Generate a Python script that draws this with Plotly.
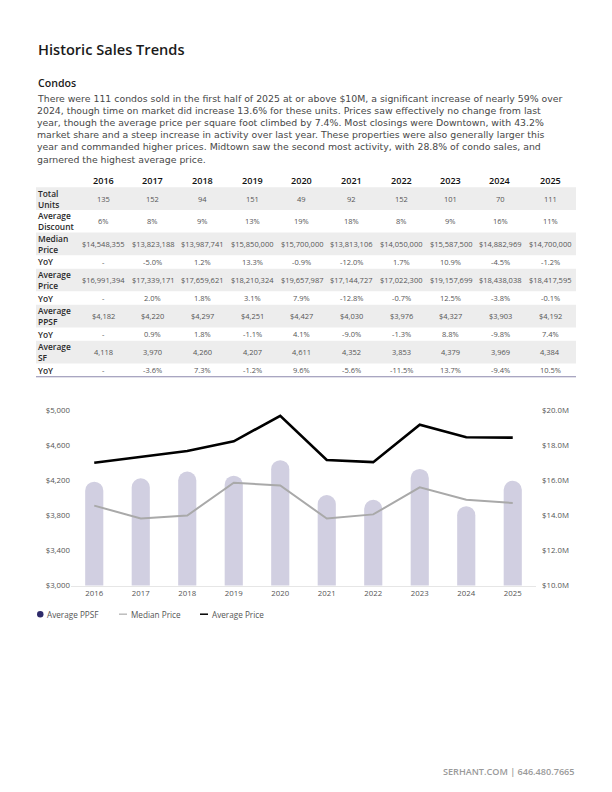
import plotly.graph_objects as go

# ---------------- data ----------------
years = ["2016", "2017", "2018", "2019", "2020", "2021", "2022", "2023", "2024", "2025"]
total_units = [135, 152, 94, 151, 49, 92, 152, 101, 70, 111]
avg_discount = [6, 8, 9, 13, 19, 18, 8, 9, 16, 11]
median_price = [14548355, 13823188, 13987741, 15850000, 15700000, 13813106, 14050000, 15587500, 14882969, 14700000]
median_yoy = [None, -5.0, 1.2, 13.3, -0.9, -12.0, 1.7, 10.9, -4.5, -1.2]
avg_price = [16991394, 17339171, 17659621, 18210324, 19657987, 17144727, 17022300, 19157699, 18438038, 18417595]
avg_price_yoy = [None, 2.0, 1.8, 3.1, 7.9, -12.8, -0.7, 12.5, -3.8, -0.1]
avg_ppsf = [4182, 4220, 4297, 4251, 4427, 4030, 3976, 4327, 3903, 4192]
ppsf_yoy = [None, 0.9, 1.8, -1.1, 4.1, -9.0, -1.3, 8.8, -9.8, 7.4]
avg_sf = [4118, 3970, 4260, 4207, 4611, 4352, 3853, 4379, 3969, 4384]
sf_yoy = [None, -3.6, 7.3, -1.2, 9.6, -5.6, -11.5, 13.7, -9.4, 10.5]

left_ticks = [3000, 3400, 3800, 4200, 4600, 5000]
right_ticks = [10e6, 12e6, 14e6, 16e6, 18e6, 20e6]

title_text = "Historic Sales Trends"
subtitle_text = "Condos"
paragraph_lines = [
    "There were 111 condos sold in the first half of 2025 at or above $10M, a significant increase of nearly 59% over",
    "2024, though time on market did increase 13.6% for these units. Prices saw effectively no change from last",
    "year, though the average price per square foot climbed by 7.4%. Most closings were Downtown, with 43.2%",
    "market share and a steep increase in activity over last year. These properties were also generally larger this",
    "year and commanded higher prices. Midtown saw the second most activity, with 28.8% of condo sales, and",
    "garnered the highest average price.",
]
footer_text = "SERHANT.COM | 646.480.7665"

# ---------------- styling ----------------
W, H = 612, 792
FONT = "Open Sans"
PARA_FONT = "DejaVu Sans"
BAR_COLOR = "#d1cfe1"
STRIPE = "#ededed"


def px(x):
    return x / W


def py(y):
    return 1 - y / H


def money(v):
    return "${:,.0f}".format(v)


def pct(v):
    return "-" if v is None else "{:.1f}%".format(v)


table_rows = [
    ("Total<br>Units", [str(v) for v in total_units], 23),
    ("Average<br>Discount", ["{}%".format(v) for v in avg_discount], 23),
    ("Median<br>Price", [money(v) for v in median_price], 23),
    ("YoY", [pct(v) for v in median_yoy], 13.5),
    ("Average<br>Price", [money(v) for v in avg_price], 23),
    ("YoY", [pct(v) for v in avg_price_yoy], 13.5),
    ("Average<br>PPSF", [money(v) for v in avg_ppsf], 23),
    ("YoY", [pct(v) for v in ppsf_yoy], 13.5),
    ("Average<br>SF", ["{:,}".format(v) for v in avg_sf], 23),
    ("YoY", [pct(v) for v in sf_yoy], 13.5),
]

fig = go.Figure()

fig.add_trace(go.Bar(
    x=years, y=avg_ppsf, name="Average PPSF",
    marker=dict(color=BAR_COLOR, cornerradius="50%", line=dict(width=0)),
    yaxis="y", showlegend=False, hoverinfo="skip",
))
fig.add_trace(go.Scatter(
    x=years, y=median_price, name="Median Price", mode="lines",
    line=dict(color="#a9a9a9", width=2), yaxis="y2", showlegend=False,
))
fig.add_trace(go.Scatter(
    x=years, y=avg_price, name="Average Price", mode="lines",
    line=dict(color="#000000", width=2.6), yaxis="y2", showlegend=False,
))

annotations = []
shapes = []

# title and text
annotations.append(dict(text=title_text, x=px(35.5), y=py(45), xanchor="left", yanchor="middle",
                        font=dict(family=FONT, size=14.6, color="#1a1a1a", weight=600)))
annotations.append(dict(text=subtitle_text, x=px(35.5), y=py(79), xanchor="left", yanchor="middle",
                        font=dict(family=FONT, size=10.6, color="#1a1a1a", weight=600)))
for i, line in enumerate(paragraph_lines):
    annotations.append(dict(text=line, x=px(35.5), y=py(94.3 + 12.35 * i), xanchor="left", yanchor="middle",
                            borderpad=0, font=dict(family=PARA_FONT, size=9.35, color="#474747")))

# table
col_x = [103 + 49.67 * i for i in range(len(years))]
for xc, yr in zip(col_x, years):
    annotations.append(dict(text=yr, x=px(xc), y=py(178), xanchor="center", yanchor="middle",
                            font=dict(family=FONT, size=9.1, color="#111111", weight=600)))
y0 = 184.5
for r, (label, vals, h) in enumerate(table_rows):
    if r % 2 == 0:
        shapes.append(dict(type="rect", xref="paper", yref="paper", x0=px(36), x1=px(576),
                           y0=py(y0 + h), y1=py(y0), fillcolor=STRIPE, line=dict(width=0), layer="below"))
    yc = y0 + h / 2
    annotations.append(dict(text=label, x=px(36.5), y=py(yc), xanchor="left", yanchor="middle", align="left",
                            borderpad=0, font=dict(family=FONT, size=8.4, color="#2a2a2a", weight=600)))
    for xc, v in zip(col_x, vals):
        annotations.append(dict(text=v, x=px(xc), y=py(yc), xanchor="center", yanchor="middle", borderpad=0,
                                font=dict(family=FONT, size=7.5, color="#555555")))
    y0 += h
shapes.append(dict(type="line", xref="paper", yref="paper", x0=px(36), x1=px(576), y0=py(y0), y1=py(y0),
                   line=dict(color="#8c89ad", width=1.2)))

# legend (custom)
shapes.append(dict(type="circle", xref="paper", yref="paper", x0=px(37), x1=px(43.5), y0=py(620.3), y1=py(613.8),
                   fillcolor="#2e2b6a", line=dict(width=0)))
annotations.append(dict(text="Average PPSF", x=px(45), y=py(617), xanchor="left", yanchor="middle",
                        font=dict(family=FONT, size=8.2, color="#555555")))
shapes.append(dict(type="line", xref="paper", yref="paper", x0=px(119), x1=px(127), y0=py(617), y1=py(617),
                   line=dict(color="#bdbdbd", width=1.5)))
annotations.append(dict(text="Median Price", x=px(128.5), y=py(617), xanchor="left", yanchor="middle",
                        font=dict(family=FONT, size=8.2, color="#555555")))
shapes.append(dict(type="line", xref="paper", yref="paper", x0=px(200), x1=px(208), y0=py(617), y1=py(617),
                   line=dict(color="#000000", width=1.5)))
annotations.append(dict(text="Average Price", x=px(209.5), y=py(617), xanchor="left", yanchor="middle",
                        font=dict(family=FONT, size=8.2, color="#555555")))

# footer
annotations.append(dict(text=footer_text, x=px(576.5), y=py(776), xanchor="right", yanchor="middle",
                        font=dict(family=FONT, size=9.1, color="#9a9a9a", weight=600)))

for a in annotations:
    a.setdefault("xref", "paper")
    a.setdefault("yref", "paper")
    a["showarrow"] = False

fig.update_layout(
    width=W, height=H,
    margin=dict(l=0, r=0, t=0, b=0),
    paper_bgcolor="white", plot_bgcolor="white",
    font=dict(family=FONT, color="#555555"),
    bargap=0.61,
    showlegend=False,
    xaxis=dict(domain=[px(71), px(536)], type="category", showgrid=False, showline=True,
               linecolor="#e6e6e6", linewidth=1, ticks="", tickfont=dict(size=7.8, color="#555555"),
               anchor="y", zeroline=False),
    yaxis=dict(domain=[py(588), py(410)], range=[3000, 5000], tickvals=left_ticks, tickformat="$,.0f",
               showgrid=False, zeroline=False, showline=False, ticks="",
               tickfont=dict(size=7.8, color="#555555")),
    yaxis2=dict(domain=[py(588), py(410)], range=[10e6, 20e6], overlaying="y", side="right",
                tickvals=right_ticks, tickformat="$.3s", showgrid=False, zeroline=False, showline=False,
                ticks="", tickfont=dict(size=7.8, color="#555555"), anchor="x", ticklabelstandoff=5),
    annotations=annotations,
    shapes=shapes,
)

fig.write_html("out.html", config={"displayModeBar": False},
               post_script="document.body.style.margin='0px';")
